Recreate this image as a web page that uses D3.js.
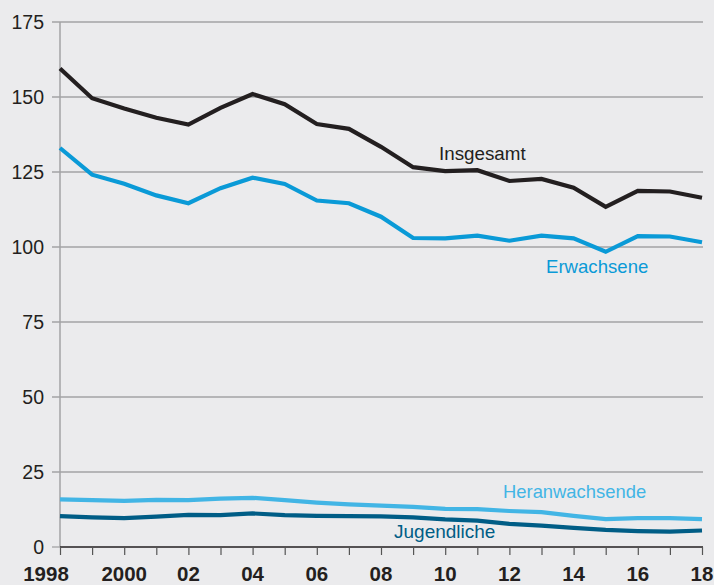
<!DOCTYPE html>
<html><head><meta charset="utf-8">
<script src="https://cdn.jsdelivr.net/npm/d3@7"></script>
<style>
html,body{margin:0;padding:0;background:#ebebed;}
svg{display:block;font-family:"Liberation Sans",Arial,Helvetica,sans-serif;}
</style></head>
<body>
<svg id="c" width="714" height="585"></svg>
<script>
const years = d3.range(1998, 2019);
const insgesamt = [159.5,149.6,146.2,143.1,140.8,146.4,151.0,147.6,141.0,139.4,133.4,126.6,125.3,125.6,122.0,122.7,119.8,113.4,118.7,118.5,116.4];
const erwachsene = [133.0,124.1,121.1,117.2,114.6,119.6,123.1,121.0,115.5,114.6,110.1,103.0,102.9,103.8,102.1,103.8,102.9,98.4,103.6,103.5,101.6];
const heranwachsende = [15.9,15.6,15.4,15.7,15.6,16.1,16.4,15.6,14.8,14.2,13.8,13.4,12.7,12.6,12.0,11.6,10.4,9.3,9.6,9.6,9.3];
const jugendliche = [10.3,9.9,9.6,10.1,10.7,10.6,11.2,10.6,10.4,10.3,10.2,9.9,9.2,8.8,7.7,7.1,6.4,5.7,5.3,5.1,5.5];
const yTicks = [0,25,50,75,100,125,150,175];
const xTickLabels = {1998:"1998",2000:"2000",2002:"02",2004:"04",2006:"06",2008:"08",2010:"10",2012:"12",2014:"14",2016:"16",2018:"18"};

const series = [
  {name:"Insgesamt", values:insgesamt, color:"#231f20", label:{x:439,y:160}, fs:18.8},
  {name:"Erwachsene", values:erwachsene, color:"#0a9ad7", label:{x:546,y:273}, fs:18.6},
  {name:"Heranwachsende", values:heranwachsende, color:"#42b5e5", label:{x:503,y:498}, fs:18.4},
  {name:"Jugendliche", values:jugendliche, color:"#005d86", label:{x:394,y:538}, fs:19}
];

const svg = d3.select("#c");
const x = d3.scaleLinear().domain([1998,2018]).range([60,702]);
const y = d3.scaleLinear().domain([0,175]).range([547,22]);

// gridlines
svg.append("g").selectAll("line").data(yTicks.filter(d=>d>0)).join("line")
  .attr("x1",52).attr("x2",703).attr("y1",d=>y(d)).attr("y2",d=>y(d))
  .attr("stroke","#a3a3a5").attr("stroke-width",1.3);
svg.append("line").attr("x1",52).attr("x2",60).attr("y1",y(0)).attr("y2",y(0))
  .attr("stroke","#a3a3a5").attr("stroke-width",1.3);
svg.append("line").attr("x1",60).attr("x2",60).attr("y1",y(175)).attr("y2",y(0))
  .attr("stroke","#a3a3a5").attr("stroke-width",1.5);

// y labels
svg.append("g").selectAll("text").data(yTicks).join("text")
  .attr("x",44).attr("y",d=>y(d)).attr("dy","0.36em")
  .attr("text-anchor","end").attr("font-size",19.5).attr("fill","#231f20")
  .text(d=>d);

// lines
const line = d3.line().x((d,i)=>x(years[i])).y(d=>y(d));
series.forEach(s=>{
  svg.append("path").datum(s.values).attr("d",line)
    .attr("fill","none").attr("stroke",s.color).attr("stroke-width",4.2)
    .attr("stroke-linejoin","miter");
  svg.append("text").attr("x",s.label.x).attr("y",s.label.y)
    .attr("font-size",s.fs).attr("fill",s.color).text(s.name);
});

// bottom axis
const xAxis = d3.axisBottom(x).tickValues(years).tickSize(8).tickFormat("");
const gx = svg.append("g").attr("transform",`translate(0,${y(0)})`).call(xAxis);
gx.select(".domain").attr("stroke","#231f20").attr("stroke-width",1.6).attr("d","M60,0H703");
gx.selectAll(".tick line").attr("stroke","#555").attr("stroke-width",1.2);

svg.append("g").selectAll("text").data(years.filter(d=>xTickLabels[d])).join("text")
  .attr("x",d=>d===1998 ? x(d)-14 : x(d)).attr("y",581)
  .attr("text-anchor","middle").attr("font-size",20.5).attr("font-weight","bold")
  .attr("fill","#231f20").text(d=>xTickLabels[d]);
</script>
</body></html>
